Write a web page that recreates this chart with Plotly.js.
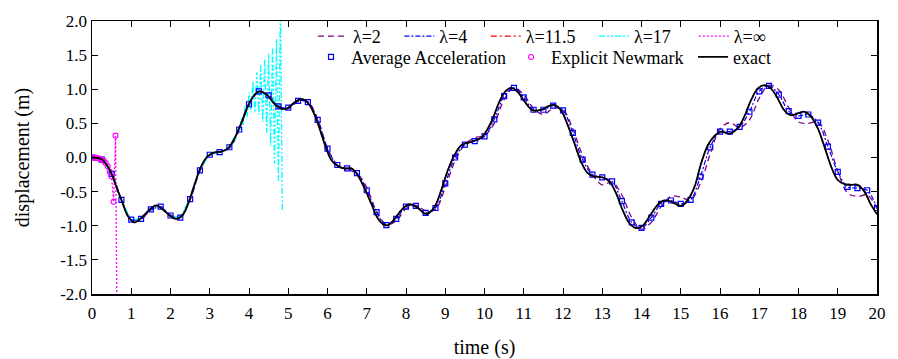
<!DOCTYPE html>
<html>
<head>
<meta charset="utf-8">
<script src="https://cdn.plot.ly/plotly-3.0.1.min.js"></script>
<style>
html,body{margin:0;padding:0;background:#fff;}
#chart{width:898px;height:359px;}
#chart svg text{font-family:'Liberation Serif', serif !important; fill:#000000 !important;}
#chart .xtick text, #chart .ytick text{font-size:17px !important;}
#chart .legendtext{font-size:18px !important;}
#chart .xtitle, #chart .ytitle{font-size:20px !important;}
</style>
</head>
<body>
<div id="chart"></div>
<script>
// ---- data ----
const exactT = [0, 0.12, 0.25, 0.4, 0.5, 0.65, 0.78, 0.91, 1.04, 1.1,
  1.25, 1.42, 1.63, 1.84, 2.01, 2.16, 2.31, 2.44, 2.61, 2.78,
  2.95, 3.12, 3.29, 3.46, 3.63, 3.80, 3.96, 4.13, 4.26, 4.47,
  4.64, 4.81, 4.98, 5.08, 5.25, 5.37, 5.54, 5.71, 5.84, 5.97,
  6.10, 6.27, 6.43, 6.61, 6.77, 6.94, 7.11, 7.28, 7.45, 7.54,
  7.71, 7.88, 8.09, 8.30, 8.52, 8.73, 8.90, 9.07, 9.24, 9.41,
  9.66, 9.92, 10.04, 10.21, 10.38, 10.55, 10.68, 10.85, 11.02, 11.23,
  11.44, 11.66, 11.78, 11.95, 12.12, 12.29, 12.46, 12.63, 12.80, 13.01,
  13.18, 13.35, 13.52, 13.69, 13.86, 14.03, 14.20, 14.41, 14.58, 14.75,
  15.01, 15.18, 15.35, 15.52, 15.69, 15.86, 16.03, 16.24, 16.45, 16.62,
  16.79, 16.96, 17.13, 17.30, 17.47, 17.64, 17.81, 17.98, 18.15, 18.32,
  18.49, 18.66, 18.83, 19.00, 19.17, 19.34, 19.51, 19.68, 19.85, 20.0];
const exactY = [0, -0.005, -0.025, -0.13, -0.24, -0.475, -0.67, -0.855, -0.94, -0.95,
  -0.89, -0.79, -0.70, -0.78, -0.865, -0.90, -0.84, -0.69, -0.40, -0.13,
  0.02, 0.075, 0.085, 0.13, 0.28, 0.50, 0.74, 0.91, 0.97, 0.91,
  0.79, 0.72, 0.72, 0.77, 0.84, 0.855, 0.77, 0.57, 0.35, 0.13,
  -0.04, -0.13, -0.16, -0.16, -0.26, -0.45, -0.67, -0.89, -0.99, -0.99,
  -0.90, -0.77, -0.685, -0.74, -0.83, -0.72, -0.475, -0.18, 0.04, 0.18,
  0.23, 0.29, 0.38, 0.57, 0.82, 0.98, 1.02, 0.96, 0.82, 0.69,
  0.70, 0.76, 0.77, 0.69, 0.475, 0.21, -0.06, -0.23, -0.28, -0.29,
  -0.35, -0.52, -0.77, -0.96, -1.035, -1.0, -0.865, -0.695, -0.63, -0.645,
  -0.71, -0.62, -0.43, -0.085, 0.18, 0.315, 0.38, 0.35, 0.43, 0.60,
  0.84, 1.01, 1.06, 1.01, 0.865, 0.69, 0.62, 0.645, 0.67, 0.60,
  0.43, 0.16, -0.13, -0.33, -0.39, -0.40, -0.40, -0.50, -0.695, -0.83];

const stepT = [0, 0.25, 0.5, 0.75, 1, 1.25, 1.5, 1.75, 2, 2.25, 2.5, 2.75, 3, 3.25, 3.5, 3.75,
  4, 4.25, 4.5, 4.75, 5, 5.25, 5.5, 5.75, 6, 6.25, 6.5, 6.75, 7, 7.25, 7.5, 7.75,
  8, 8.25, 8.5, 8.75, 9, 9.25, 9.5, 9.75, 10, 10.25, 10.5, 10.75, 11, 11.25, 11.5, 11.75,
  12, 12.25, 12.5, 12.75, 13, 13.25, 13.5, 13.75, 14, 14.25, 14.5, 14.75, 15, 15.25, 15.5, 15.75,
  16, 16.25, 16.5, 16.75, 17, 17.25, 17.5, 17.75, 18, 18.25, 18.5, 18.75, 19, 19.25, 19.5, 19.75, 20];
const avgAccY = [0, -0.03, -0.24, -0.62, -0.91, -0.90, -0.76, -0.72, -0.85, -0.88, -0.61, -0.19, 0.04, 0.08, 0.15, 0.41,
  0.78, 0.97, 0.91, 0.75, 0.73, 0.83, 0.81, 0.55, 0.13, -0.11, -0.16, -0.23, -0.48, -0.80, -0.99, -0.90,
  -0.72, -0.71, -0.81, -0.74, -0.38, 0.0, 0.19, 0.24, 0.31, 0.56, 0.90, 1.02, 0.88, 0.70, 0.70, 0.76,
  0.69, 0.36, -0.03, -0.25, -0.29, -0.35, -0.64, -0.95, -1.03, -0.88, -0.68, -0.63, -0.68, -0.62, -0.28, 0.15,
  0.38, 0.38, 0.45, 0.67, 0.97, 1.05, 0.92, 0.68, 0.61, 0.63, 0.51, 0.16, -0.21, -0.43, -0.45, -0.48, -0.74];
const lam2Y = [0, -0.03, -0.23, -0.61, -0.90, -0.90, -0.77, -0.73, -0.84, -0.87, -0.62, -0.20, 0.03, 0.08, 0.14, 0.40,
  0.76, 0.96, 0.92, 0.76, 0.72, 0.82, 0.82, 0.56, 0.14, -0.11, -0.18, -0.23, -0.44, -0.79, -0.98, -0.93,
  -0.75, -0.70, -0.78, -0.76, -0.44, -0.05, 0.19, 0.29, 0.32, 0.50, 0.85, 1.02, 0.92, 0.72, 0.63, 0.72,
  0.70, 0.42, 0.03, -0.25, -0.40, -0.36, -0.55, -0.88, -1.05, -0.95, -0.72, -0.57, -0.58, -0.62, -0.38, 0.05,
  0.42, 0.51, 0.44, 0.55, 0.87, 1.06, 0.99, 0.73, 0.52, 0.50, 0.52, 0.25, -0.20, -0.52, -0.57, -0.55, -0.75];
const lam4Y = avgAccY;          // coincides with the average-acceleration points
const lam115T = exactT;          // lies under the exact curve
const lam115Y = exactY;
const lam17T = [0, 0.25, 0.5, 0.75, 1, 1.25, 1.5, 1.75, 2, 2.25, 2.5, 2.75, 3, 3.25,
  3.45, 3.5, 3.55, 3.6, 3.65, 3.7, 3.75, 3.8, 3.85, 3.9, 3.95, 4.0, 4.05, 4.1, 4.15,
  4.2, 4.25, 4.3, 4.35, 4.4, 4.45, 4.5, 4.55, 4.6, 4.65, 4.7, 4.75, 4.8, 4.85];
const lam17Y = [0, -0.03, -0.24, -0.63, -0.92, -0.89, -0.75, -0.73, -0.86, -0.87, -0.59, -0.17, 0.04, 0.08,
  0.11, 0.185, 0.17, 0.285, 0.255, 0.41, 0.37, 0.57, 0.48, 0.75, 0.59, 0.95, 0.66, 1.11, 0.66,
  1.25, 0.63, 1.36, 0.52, 1.44, 0.36, 1.52, 0.17, 1.61, -0.09, 1.74, -0.36, 2.3, -0.79];
const newmarkT = [0, 0.05, 0.1, 0.15, 0.2, 0.25, 0.3, 0.35, 0.4, 0.45, 0.5, 0.55, 0.6, 0.65];
const newmarkY = [0, -0.002, -0.006, -0.012, -0.02, -0.03, -0.05, -0.08, -0.13, -0.21, -0.28, -0.65, 0.32, -3.5];
const lamInfT = newmarkT;        // same explicit scheme
const lamInfY = newmarkY;

const yTickVals = [-2, -1.5, -1, -0.5, 0, 0.5, 1, 1.5, 2];
const yTickText = ['-2.0', '-1.5', '-1.0', '-0.5', '0.0', '0.5', '1.0', '1.5', '2.0'];
const xTickVals = [0,1,2,3,4,5,6,7,8,9,10,11,12,13,14,15,16,17,18,19,20];

const nbsp = '\u00a0';

function tf(size) { return {family: 'Liberation Serif', size: size}; }

const traces = [
  {x: stepT, y: lam2Y, name: 'λ=2' + nbsp.repeat(3), mode: 'lines', line: {color: '#800080', width: 1.3, dash: '6px,4px', shape: 'spline'}, legend: 'legend'},
  {x: stepT, y: lam4Y, name: 'λ=4' + nbsp.repeat(3), mode: 'lines', line: {color: '#0000ff', width: 1.2, dash: '5px,2px,2px,2px', shape: 'spline'}, legend: 'legend'},
  {x: lam115T, y: lam115Y, name: 'λ=11.5' + nbsp.repeat(3), mode: 'lines', line: {color: '#ff0000', width: 1.2, dash: '6px,3px,2px,3px', shape: 'spline'}, legend: 'legend'},
  {x: lam17T, y: lam17Y, name: 'λ=17' + nbsp.repeat(4), mode: 'lines', line: {color: '#00ffff', width: 1.3, dash: '6px,2px,2px,2px,2px,2px'}, legend: 'legend'},
  {x: lamInfT, y: lamInfY, name: 'λ=∞', mode: 'lines', line: {color: '#ff00ff', width: 1.3, dash: '2px,2px'}, legend: 'legend'},
  {x: stepT, y: avgAccY, name: 'Average Acceleration', mode: 'markers', marker: {symbol: 'square-open', size: 5, color: '#0000ff', line: {width: 1.2}}, legend: 'legend2'},
  {x: newmarkT, y: newmarkY, name: 'Explicit Newmark' + nbsp, mode: 'markers', marker: {symbol: 'circle-open', size: 5, color: '#ff00ff', line: {width: 1.1}}, legend: 'legend2'},
  {x: exactT, y: exactY, name: 'exact', mode: 'lines', line: {color: '#000000', width: 1.8, shape: 'spline'}, legend: 'legend2'}
];

const layout = {
  width: 898, height: 359,
  margin: {l: 92, r: 21, t: 21, b: 65},
  paper_bgcolor: '#ffffff', plot_bgcolor: '#ffffff',
  font: {family: 'Liberation Serif', size: 17},
  xaxis: {
    showgrid: false, zeroline: false, showline: true, linecolor: '#000', linewidth: 1.5,
    mirror: 'ticks', ticks: 'inside', ticklen: 6, tickwidth: 1, tickcolor: '#000',
    tickfont: tf(17), ticklabelstandoff: 3,
    range: [0, 20], tickmode: 'array', tickvals: xTickVals,
    title: {text: 'time (s)', font: tf(20), standoff: 18}
  },
  yaxis: {
    showgrid: false, zeroline: false, showline: true, linecolor: '#000', linewidth: 1.5,
    mirror: 'ticks', ticks: 'inside', ticklen: 6, tickwidth: 1, tickcolor: '#000',
    tickfont: tf(17),
    range: [-2, 2], tickmode: 'array', tickvals: yTickVals, ticktext: yTickText,
    title: {text: 'displacement (m)', font: tf(20), standoff: 25}
  },
  showlegend: true,
  legend: {orientation: 'h', x: 0.2815, y: 1.011, xanchor: 'left', yanchor: 'top',
    bgcolor: 'rgba(0,0,0,0)', font: tf(18), itemwidth: 30, traceorder: 'normal'},
  legend2: {orientation: 'h', x: 0.279, y: 0.935, xanchor: 'left', yanchor: 'top',
    bgcolor: 'rgba(0,0,0,0)', font: tf(18), itemwidth: 30, traceorder: 'normal'}
};

Plotly.newPlot('chart', traces, layout, {staticPlot: true, displayModeBar: false});
</script>
</body>
</html>
